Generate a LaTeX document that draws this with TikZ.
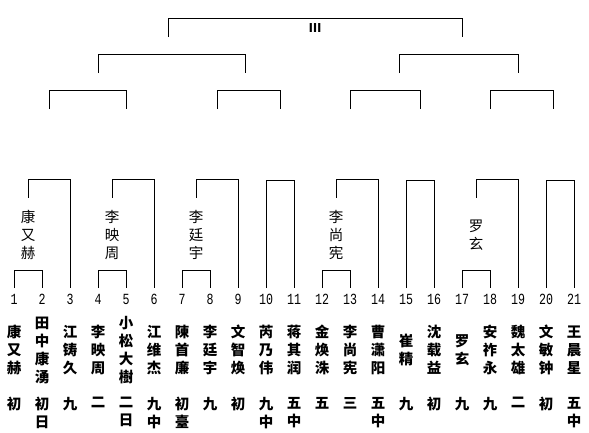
\documentclass[tikz,border=0pt]{standalone}
\usepackage{fontspec}
\newfontfamily\cjk{Noto Sans CJK SC}
\newfontfamily\numfont[FakeStretch=0.75]{Liberation Mono}
\tikzset{
  bracket/.style={draw=black, line width=1pt},
  num/.style={font=\numfont\fontsize{15.5}{15.5}\selectfont, inner sep=0pt},
  player/.style={font=\cjk\bfseries\fontsize{14.5}{18}\selectfont, align=center, inner sep=0pt},
  rank/.style={font=\cjk\bfseries\fontsize{14.5}{18}\selectfont, align=center, inner sep=0pt, anchor=north},
  winner/.style={font=\cjk\fontsize{14.5}{18}\selectfont, align=center, inner sep=0pt, minimum height=74pt},
  title/.style={font=\cjk\bfseries\fontsize{12}{12}\selectfont, inner sep=0pt},
}
\begin{document}
\begin{tikzpicture}[x=1pt, y=-1pt]
\useasboundingbox (0,0) rectangle (589,432);
% seeds, players and ranks
\foreach \i/\nm/\rk in {1/{康\\又\\赫}/初, 2/{田\\中\\康\\湧}/{初\\日}, 3/{江\\铸\\久}/九,
    4/{李\\映\\周}/二, 5/{小\\松\\大\\樹}/{二\\日}, 6/{江\\维\\杰}/{九\\中},
    7/{陳\\首\\廉}/{初\\臺}, 8/{李\\廷\\宇}/九, 9/{文\\智\\焕}/初,
    10/{芮\\乃\\伟}/{九\\中}, 11/{蒋\\其\\润}/{五\\中}, 12/{金\\焕\\洙}/五,
    13/{李\\尚\\宪}/三, 14/{曹\\潇\\阳}/{五\\中}, 15/{崔\\精}/九,
    16/{沈\\载\\益}/初, 17/{罗\\玄}/九, 18/{安\\祚\\永}/九,
    19/{魏\\太\\雄}/二, 20/{文\\敏\\钟}/初, 21/{王\\晨\\星}/{五\\中}}{
  \node[num] (p\i) at ({14+28*(\i-1)},299) {\i};
  \coordinate (s\i) at ({14+28*(\i-1)},288);
  \node[player] (m\i) at ({14+28*(\i-1)},350) {\nm};
  \node[rank] (r\i) at ({14+28*(\i-1)},397) {\rk};
}
% first round
\foreach \a/\b in {1/2, 4/5, 7/8, 12/13, 17/18}
  \draw[bracket] (s\a) -- ++(0,-18) -| (s\b);
\foreach \x/\nm [count=\k] in {28/{康\\又\\赫}, 112/{李\\映\\周}, 196/{李\\廷\\宇},
                               336/{李\\尚\\宪}, 476/{罗\\玄}}
  \node[winner] (w\k) at (\x,235) {\nm};
% second round
\foreach \f/\t in {w1.north/s3, w2.north/s6, w3.north/s9, w4.north/s14, w5.north/s19}
  \draw[bracket] (\f) -- ++(0,-18) -| (\t);
\foreach \a/\b in {10/11, 15/16, 20/21}
  \draw[bracket] (s\a) -- ++(0,-108) -| (s\b);
% later rounds
\foreach \a/\b/\y [count=\k] in {49/126/109, 217/280/109, 350/420/109, 490/553/109,
                                 98/245/73, 399/518/73, 168/462/37}{
  \coordinate (ga\k) at (\a,\y);
  \coordinate (gb\k) at (\b,\y);
  \draw[bracket] (ga\k) -- ++(0,-19) -| (gb\k);
}
\node[title] (champ) at (315,28) {Ⅲ};
\end{tikzpicture}
\end{document}
